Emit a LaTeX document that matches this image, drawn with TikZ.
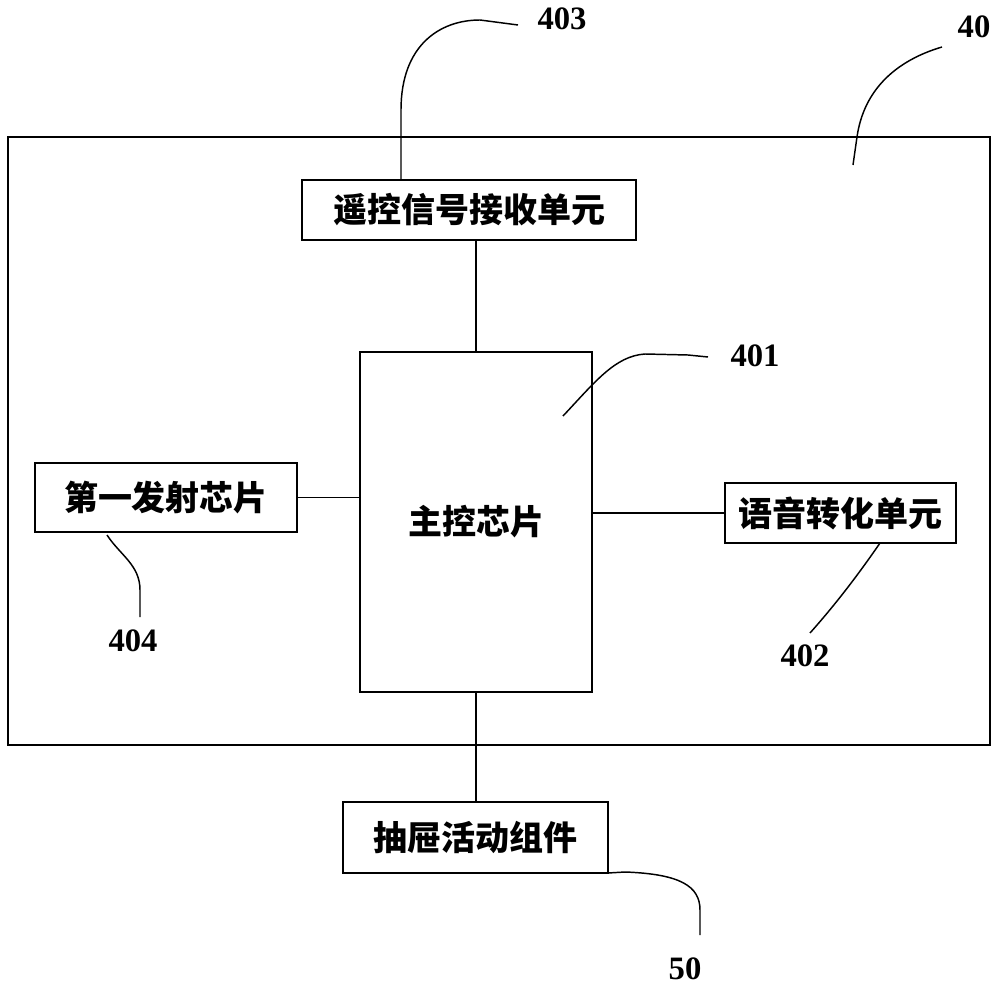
\documentclass[tikz,border=0pt]{standalone}
\usepackage{fontspec}
\setmainfont{Liberation Serif}
\newfontfamily\cjk{Noto Sans CJK SC}

\tikzset{every picture/.style={line width=1.4pt}}
\tikzset{
	unit/.style={draw, rectangle, inner sep=0pt, font=\cjk\bfseries\fontsize{25.5}{28}\selectfont},
	leader/.style={line width=1.1pt},
	refnum/.style={font=\bfseries\fontsize{24.5}{26}\selectfont, inner sep=0pt}
}

\begin{document}
\begin{tikzpicture}[x=0.75pt,y=0.75pt,yscale=-1,xscale=1]
	\useasboundingbox (0,0) rectangle (1000,988);

	%Shape: Rectangle [id:board]
	\node [draw, rectangle, minimum width=736.5pt, minimum height=456pt] (board) at (499,441) {};
	%Shape: Rectangle [id:remote]
	\node [unit, minimum width=250.5pt, minimum height=45pt] (remote) at (469,210) {遥控信号接收单元};
	%Shape: Rectangle [id:chip]
	\node [unit, minimum width=174pt, minimum height=255pt] (chip) at (476,522) {主控芯片};
	%Shape: Rectangle [id:emit]
	\node [unit, minimum width=196.5pt, minimum height=51.75pt] (emit) at (166,497.5) {第一发射芯片};
	%Shape: Rectangle [id:voice]
	\node [unit, minimum width=173.25pt, minimum height=45pt] (voice) at (840.5,513) {语音转化单元};
	%Shape: Rectangle [id:drawer]
	\node [unit, minimum width=198.75pt, minimum height=53.25pt] (drawer) at (475.5,837.5) {抽屉活动组件};

	%Straight Lines
	\draw (chip.north) -- (chip.north |- remote.south) ;
	%Straight Lines
	\draw (emit.east) -- (emit.east -| chip.west) ;
	%Straight Lines
	\draw (voice.west) -- (voice.west -| chip.east) ;
	%Straight Lines
	\draw (chip.south) -- (chip.south |- drawer.north) ;

	% Text Node
	\node [refnum] (n403) at (562,19) {403};
	% Text Node
	\node [refnum] (n40) at (974,27) {40};
	% Text Node
	\node [refnum] (n401) at (755,356) {401};
	% Text Node
	\node [refnum] (n402) at (805,656) {402};
	% Text Node
	\node [refnum] (n404) at (133,641) {404};
	% Text Node
	\node [refnum] (n50) at (685,969) {50};

	%Curve Lines
	\draw [leader] (401,180) -- (401,110) .. controls (401,45) and (440,20) .. (480,20) -- (518,25) ;
	%Curve Lines
	\draw [leader] (853,165) -- (857,137) .. controls (864,88) and (898,60) .. (942,47) ;
	%Curve Lines
	\draw [leader] (563,416) .. controls (595,382) and (615,356) .. (645,354) -- (688,355) -- (708,357) ;
	%Curve Lines
	\draw [leader] (880,543) .. controls (858,575) and (835,605) .. (810,633) ;
	%Curve Lines
	\draw [leader] (107,535) .. controls (120,555) and (140,565) .. (140,590) -- (140,617) ;
	%Curve Lines
	\draw [leader] (608,873) -- (625,872) .. controls (680,874) and (700,886) .. (700,910) -- (700,935) ;

\end{tikzpicture}
\end{document}
